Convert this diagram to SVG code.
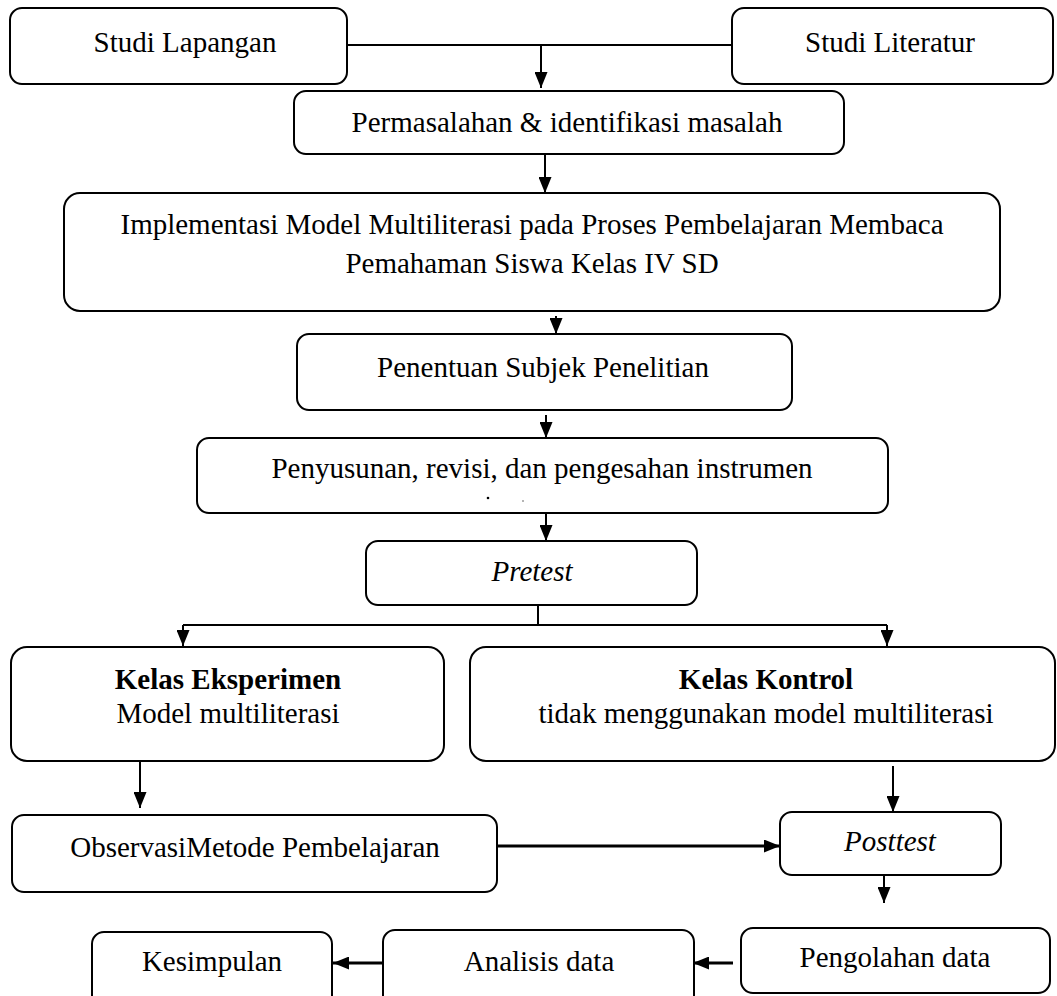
<svg xmlns="http://www.w3.org/2000/svg" width="1057" height="996" viewBox="0 0 1057 996">
<style>
  .box { fill: #ffffff; stroke: #000000; stroke-width: 2; }
  .t { font-family: "Liberation Serif", "Times New Roman", serif; font-size: 29px; fill: #000000; text-anchor: middle; }
  .b { font-weight: bold; }
  .i { font-style: italic; }
  .c { fill: none; stroke: #000000; stroke-width: 2; }
  .ct { fill: none; stroke: #000000; stroke-width: 3; }
</style>
<defs>
  <marker id="arr" markerUnits="userSpaceOnUse" markerWidth="16" markerHeight="13" refX="16" refY="6.5" orient="auto">
    <path d="M0,0 L16,6.5 L0,13 z" fill="#000000"/>
  </marker>
</defs>
<rect width="1057" height="996" fill="#ffffff"/>

<g id="connectors">
  <path class="c" d="M347,45 H732"/>
  <path class="c" d="M541,45 V88" marker-end="url(#arr)"/>
  <path class="c" d="M545,154 V193" marker-end="url(#arr)"/>
  <path class="c" d="M556,316 V334" marker-end="url(#arr)"/>
  <path class="c" d="M546,415 V438" marker-end="url(#arr)"/>
  <path class="c" d="M546,514 V541" marker-end="url(#arr)"/>
  <path class="c" d="M538,606 V625"/>
  <path class="c" d="M183,625 H887"/>
  <path class="c" d="M183,625 V646" marker-end="url(#arr)"/>
  <path class="c" d="M887,625 V646" marker-end="url(#arr)"/>
  <path class="c" d="M140,761 V808" marker-end="url(#arr)"/>
  <path class="c" d="M893,766 V812" marker-end="url(#arr)"/>
  <path class="ct" d="M497,846 H780" marker-end="url(#arr)"/>
  <path class="c" d="M884,876 V903" marker-end="url(#arr)"/>
  <path class="ct" d="M733,963 H693" marker-end="url(#arr)"/>
  <path class="ct" d="M383,963 H333" marker-end="url(#arr)"/>
</g>

<g id="studi-lapangan">
  <rect class="box" x="10" y="8" width="337" height="76" rx="12"/>
  <text class="t" x="185" y="52">Studi Lapangan</text>
</g>
<g id="studi-literatur">
  <rect class="box" x="732" y="8" width="321" height="76" rx="12"/>
  <text class="t" x="890" y="52">Studi Literatur</text>
</g>
<g id="permasalahan">
  <rect class="box" x="294" y="91" width="550" height="63" rx="12"/>
  <text class="t" x="567" y="132">Permasalahan &amp; identifikasi masalah</text>
</g>
<g id="implementasi">
  <rect class="box" x="64" y="193" width="936" height="118" rx="16"/>
  <text class="t" x="532" y="234">Implementasi Model Multiliterasi pada Proses Pembelajaran Membaca</text>
  <text class="t" x="532" y="273">Pemahaman Siswa Kelas IV SD</text>
</g>
<g id="penentuan">
  <rect class="box" x="297" y="334" width="495" height="76" rx="12"/>
  <text class="t" x="543" y="377">Penentuan Subjek Penelitian</text>
</g>
<g id="penyusunan">
  <rect class="box" x="197" y="438" width="691" height="75" rx="12"/>
  <text class="t" x="542" y="478">Penyusunan, revisi, dan pengesahan instrumen</text>
  <circle cx="488" cy="498" r="1.3" fill="#000000"/>
  <circle cx="523" cy="501" r="0.8" fill="#555555"/>
</g>
<g id="pretest">
  <rect class="box" x="366" y="541" width="331" height="64" rx="12"/>
  <text class="t i" x="532" y="581">Pretest</text>
</g>
<g id="kelas-eksperimen">
  <rect class="box" x="11" y="647" width="433" height="114" rx="16"/>
  <text class="t b" x="228" y="689">Kelas Eksperimen</text>
  <text class="t" x="228" y="723">Model multiliterasi</text>
</g>
<g id="kelas-kontrol">
  <rect class="box" x="470" y="647" width="585" height="114" rx="16"/>
  <text class="t b" x="766" y="689">Kelas Kontrol</text>
  <text class="t" x="766" y="723">tidak menggunakan model multiliterasi</text>
</g>
<g id="observasi">
  <rect class="box" x="12" y="815" width="485" height="77" rx="12"/>
  <text class="t" x="255" y="857">ObservasiMetode Pembelajaran</text>
</g>
<g id="posttest">
  <rect class="box" x="780" y="812" width="221" height="63" rx="12"/>
  <text class="t i" x="890" y="851">Posttest</text>
</g>
<g id="pengolahan">
  <rect class="box" x="741" y="928" width="309" height="65" rx="12"/>
  <text class="t" x="895" y="967">Pengolahan data</text>
</g>
<g id="analisis">
  <rect class="box" x="383" y="930" width="311" height="80" rx="12"/>
  <text class="t" x="539" y="971">Analisis data</text>
</g>
<g id="kesimpulan">
  <rect class="box" x="92" y="932" width="240" height="80" rx="12"/>
  <text class="t" x="212" y="971">Kesimpulan</text>
</g>
</svg>
